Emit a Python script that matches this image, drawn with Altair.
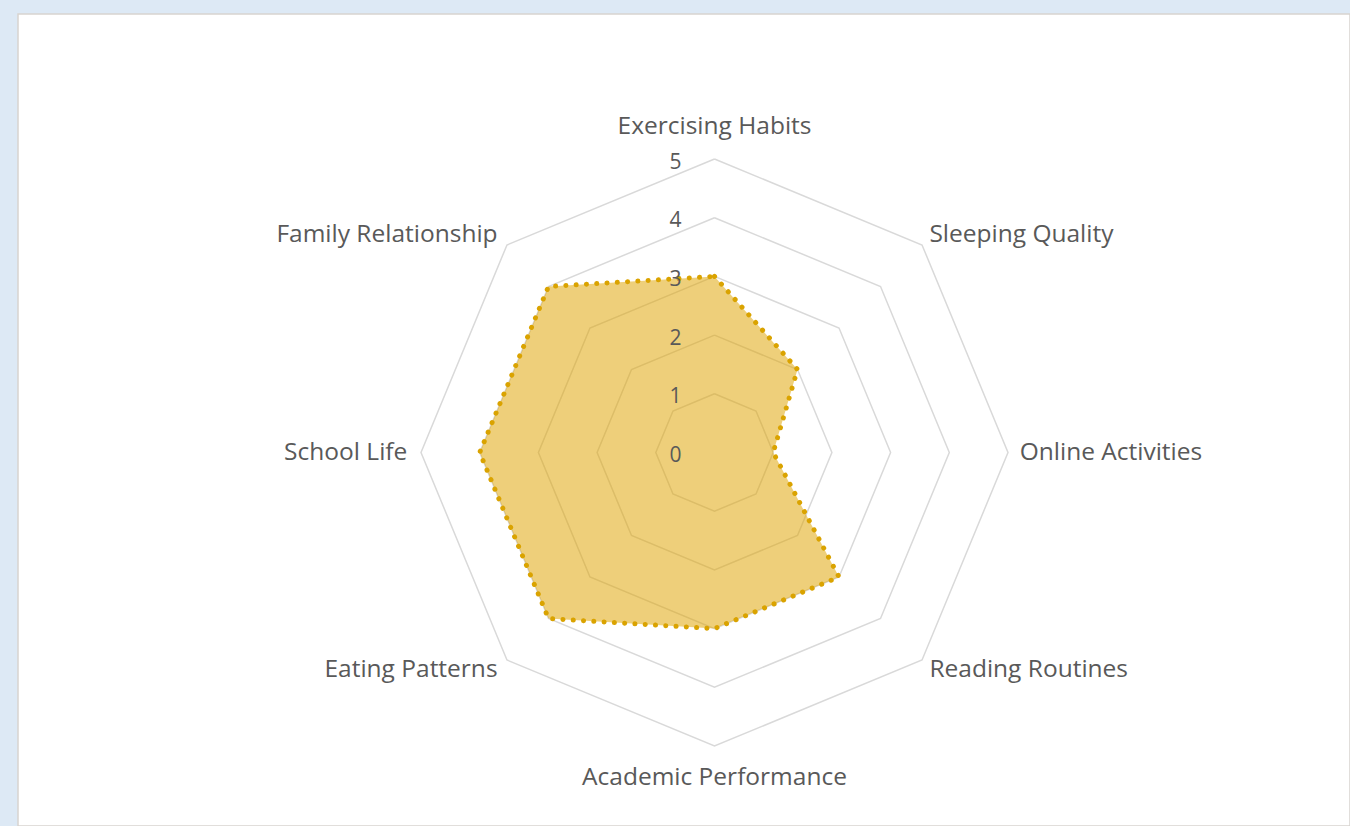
import altair as alt
import pandas as pd

categories = ["Exercising Habits", "Sleeping Quality", "Online Activities", "Reading Routines",
              "Academic Performance", "Eating Patterns", "School Life", "Family Relationship"]
values = [3, 2, 1, 3, 3, 4, 4, 4]
levels = [1, 2, 3, 4, 5]
tick_labels = ["0", "1", "2", "3", "4", "5"]

n = len(categories)
poly = pd.DataFrame({"idx": list(range(n + 1)),
                     "category": categories + [categories[0]],
                     "value": values + [values[0]]})
rings = pd.DataFrame([{"level": l, "idx": i} for l in levels for i in range(n + 1)])
labels = pd.DataFrame({"idx": list(range(n)), "category": categories})
ticks = pd.DataFrame({"level": list(range(len(tick_labels))), "label": tick_labels})

U = 58.7
W, H = 1332, 812
cx, cy = 696.5, 438.5
xs = alt.Scale(domain=[-cx / U, (W - cx) / U], nice=False, zero=False)
ys = alt.Scale(domain=[-(H - cy) / U, cy / U], nice=False, zero=False)

ang = f"datum.idx * 2 * PI / {n}"
FONT = "Open Sans"
TXT = "#595959"
LFS = 24.5

ring_layer = alt.Chart(rings).transform_calculate(
    a=ang
).transform_calculate(
    x="datum.level * sin(datum.a)", y="datum.level * cos(datum.a)"
).mark_line(stroke="#d9d9d9", strokeWidth=1.5).encode(
    x=alt.X("x:Q", scale=xs, axis=None),
    y=alt.Y("y:Q", scale=ys, axis=None),
    detail="level:N",
    order="idx:Q",
)

poly_base = alt.Chart(poly).transform_calculate(
    a=ang
).transform_calculate(
    x="datum.value * sin(datum.a)", y="datum.value * cos(datum.a)"
).encode(
    x=alt.X("x:Q", scale=xs, axis=None),
    y=alt.Y("y:Q", scale=ys, axis=None),
    order="idx:Q",
)
fill_layer = poly_base.mark_line(fill="#DFA300", fillOpacity=0.52, strokeOpacity=0)
dot_layer = poly_base.mark_line(stroke="#DAA300", strokeWidth=5, strokeDash=[0.1, 10.2],
                                strokeCap="round", strokeJoin="round")

lab_base = alt.Chart(labels).transform_calculate(
    a=ang
).transform_calculate(
    r="abs(sin(datum.a)) < 0.1 ? 5.55 : 5.25"
).transform_calculate(
    x="datum.r * sin(datum.a)", y="datum.r * cos(datum.a)", s="sin(datum.a)"
).encode(
    x=alt.X("x:Q", scale=xs, axis=None),
    y=alt.Y("y:Q", scale=ys, axis=None),
    text="category:N",
)
lab_left = lab_base.transform_filter("datum.s > 0.1").mark_text(
    align="left", baseline="middle", font=FONT, fontSize=LFS, color=TXT, dx=-3)
lab_right = lab_base.transform_filter("datum.s < -0.1").mark_text(
    align="right", baseline="middle", font=FONT, fontSize=LFS, color=TXT, dx=1)
lab_center = lab_base.transform_filter("abs(datum.s) <= 0.1").mark_text(
    align="center", baseline="middle", font=FONT, fontSize=LFS, color=TXT)

tick_layer = alt.Chart(ticks).transform_calculate(x="0").mark_text(
    align="center", baseline="middle", font=FONT, fontSize=21, color=TXT, dx=-39, dy=3.5
).encode(
    x=alt.X("x:Q", scale=xs, axis=None),
    y=alt.Y("level:Q", scale=ys, axis=None),
    text="label:N",
)

chart = alt.layer(
    ring_layer, fill_layer, dot_layer, tick_layer, lab_left, lab_right, lab_center
).properties(
    width=W, height=H,
    padding={"left": 18, "top": 14, "right": 0, "bottom": 0},
    autosize="none",
    background="#DDE9F5",
).configure_view(fill="white", stroke="#d8d4d0", strokeWidth=1.5)

chart.save("out.html", embed_options={"renderer": "svg", "actions": False})
